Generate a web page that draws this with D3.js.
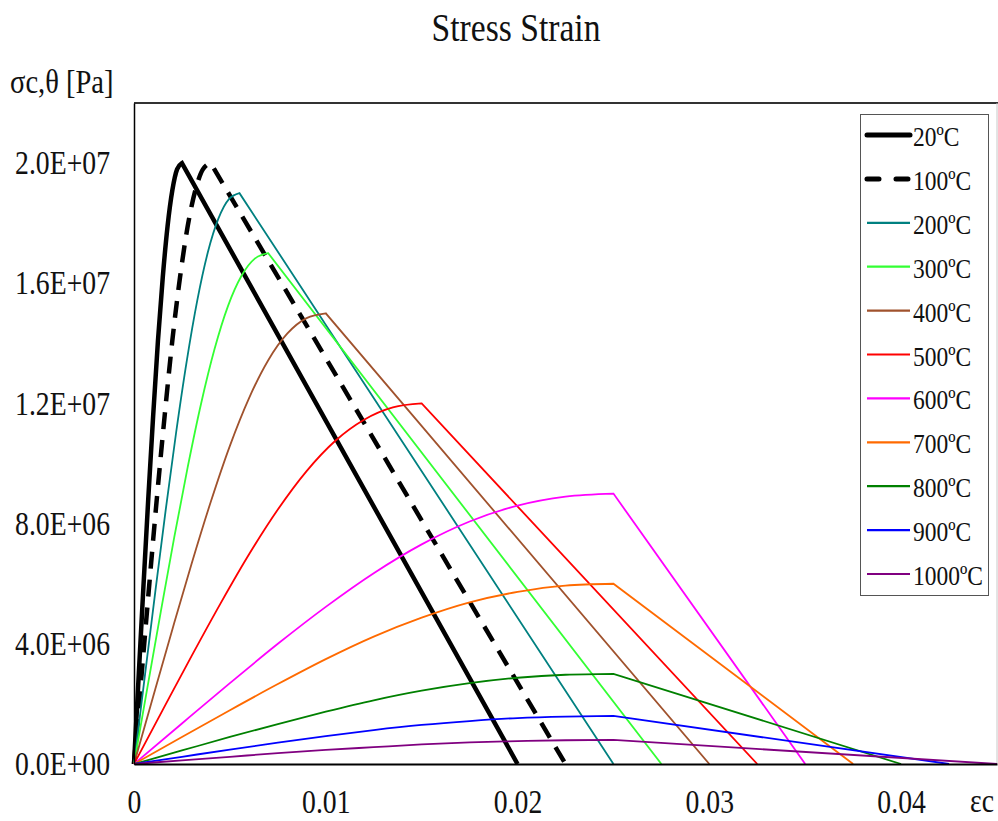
<!DOCTYPE html>
<html>
<head>
<meta charset="utf-8">
<script src="https://cdn.jsdelivr.net/npm/d3@7"></script>
<style>
  body { margin: 0; background: #fff; }
  text { font-family: "Liberation Serif", "Times New Roman", serif; fill: #111; }
</style>
</head>
<body>
<div id="chart"></div>
<script>
// series labels
var labels = ["20ºC", "100ºC", "200ºC", "300ºC", "400ºC", "500ºC", "600ºC", "700ºC", "800ºC", "900ºC", "1000ºC"];

// strain values (last value = end of descending branch)
var strain20   = [0, 0.00025, 0.0005, 0.00075, 0.001, 0.00125, 0.0015, 0.00175, 0.002, 0.00225, 0.0025, 0.02];
var strain100  = [0, 0.0004, 0.0008, 0.0012, 0.0016, 0.002, 0.0024, 0.0028, 0.0032, 0.0036, 0.004, 0.0225];
var strain200  = [0, 0.00055, 0.0011, 0.00165, 0.0022, 0.00275, 0.0033, 0.00385, 0.0044, 0.00495, 0.0055, 0.025];
var strain300  = [0, 0.0007, 0.0014, 0.0021, 0.0028, 0.0035, 0.0042, 0.0049, 0.0056, 0.0063, 0.007, 0.0275];
var strain400  = [0, 0.001, 0.002, 0.003, 0.004, 0.005, 0.006, 0.007, 0.008, 0.009, 0.01, 0.03];
var strain500  = [0, 0.0015, 0.003, 0.0045, 0.006, 0.0075, 0.009, 0.0105, 0.012, 0.0135, 0.015, 0.0325];
var strain600  = [0, 0.0025, 0.005, 0.0075, 0.01, 0.0125, 0.015, 0.0175, 0.02, 0.0225, 0.025, 0.035];
var strain700  = [0, 0.0025, 0.005, 0.0075, 0.01, 0.0125, 0.015, 0.0175, 0.02, 0.0225, 0.025, 0.0375];
var strain800  = [0, 0.0025, 0.005, 0.0075, 0.01, 0.0125, 0.015, 0.0175, 0.02, 0.0225, 0.025, 0.04];
var strain900  = [0, 0.0025, 0.005, 0.0075, 0.01, 0.0125, 0.015, 0.0175, 0.02, 0.0225, 0.025, 0.0425];
var strain1000 = [0, 0.0025, 0.005, 0.0075, 0.01, 0.0125, 0.015, 0.0175, 0.02, 0.0225, 0.025, 0.045];

// stress values in MPa
var stress20   = [0, 3.0, 6.0, 8.9, 11.6, 14.1, 16.2, 17.9, 19.1, 19.8, 20.0, 0];
var stress100  = [0, 3.0, 6.0, 8.9, 11.6, 14.1, 16.2, 17.9, 19.1, 19.8, 20.0, 0];
var stress200  = [0, 2.85, 5.68, 8.44, 11.05, 13.41, 15.43, 17.03, 18.15, 18.8, 19.0, 0];
var stress300  = [0, 2.55, 5.08, 7.55, 9.88, 12.0, 13.81, 15.24, 16.24, 16.82, 17.0, 0];
var stress400  = [0, 2.25, 4.48, 6.66, 8.72, 10.59, 12.18, 13.44, 14.33, 14.84, 15.0, 0];
var stress500  = [0, 1.8, 3.59, 5.33, 6.98, 8.47, 9.75, 10.76, 11.46, 11.87, 12.0, 0];
var stress600  = [0, 1.35, 2.69, 4.0, 5.23, 6.35, 7.31, 8.07, 8.6, 8.9, 9.0, 0];
var stress700  = [0, 0.9, 1.79, 2.66, 3.49, 4.24, 4.87, 5.38, 5.73, 5.94, 6.0, 0];
var stress800  = [0, 0.45, 0.9, 1.33, 1.74, 2.12, 2.44, 2.69, 2.87, 2.97, 3.0, 0];
var stress900  = [0, 0.24, 0.48, 0.71, 0.93, 1.13, 1.3, 1.43, 1.53, 1.58, 1.6, 0];
var stress1000 = [0, 0.12, 0.24, 0.36, 0.47, 0.56, 0.65, 0.72, 0.76, 0.79, 0.8, 0];

var xTicks = [0, 0.01, 0.02, 0.03, 0.04];
var yTicks = [0, 4e6, 8e6, 1.2e7, 1.6e7, 2e7];

// styles
var colors = ["#000000", "#000000", "#008080", "#33ff33", "#a0522d", "#ff0000", "#ff00ff", "#ff6a00", "#008000", "#0000ff", "#800080"];
var widths = [4.5, 4.5, 1.8, 1.8, 1.8, 1.8, 1.8, 1.8, 1.8, 1.8, 1.8];
var dashes = [null, "17,11", null, null, null, null, null, null, null, null, null];

var strains = [strain20, strain100, strain200, strain300, strain400, strain500, strain600, strain700, strain800, strain900, strain1000];
var stresses = [stress20, stress100, stress200, stress300, stress400, stress500, stress600, stress700, stress800, stress900, stress1000];

var series = labels.map(function(l, i){
    return {
        label: l,
        pts: strains[i].map(function(e, j){ return [e, stresses[i][j] * 1e6]; })
    };
});

var W = 998, H = 821;
var SX = 0.84;  // text in the picture is horizontally condensed

var svg = d3.select("#chart").append("svg").attr("width", W).attr("height", H);

var x = d3.scaleLinear().domain([0, 0.045]).range([134, 997]);
var y = d3.scaleLinear().domain([0, 2.2e7]).range([764, 103]);

function label(txt, px, py, size, anchor){
    return svg.append("text")
        .attr("transform", "translate(" + px + "," + py + ") scale(" + SX + ",1)")
        .attr("text-anchor", anchor || "start")
        .style("font-size", size + "px")
        .text(txt);
}

function sci(v){
    var s = d3.format(".1e")(v).split("e");
    var ex = +s[1];
    return s[0] + "E" + (ex < 0 ? "-" : "+") + d3.format("02d")(Math.abs(ex));
}

// frame
svg.append("line").attr("x1", 134).attr("x2", W).attr("y1", 103).attr("y2", 103)
    .attr("stroke", "#333").attr("stroke-width", 2);
svg.append("line").attr("x1", 997).attr("x2", 997).attr("y1", 103).attr("y2", 764)
    .attr("stroke", "#c8c8c8").attr("stroke-width", 1);

// curves
var smooth = d3.line().x(function(d){ return x(d[0]); }).y(function(d){ return y(d[1]); }).curve(d3.curveMonotoneX);

series.forEach(function(s, i){
    var asc = s.pts.slice(0, s.pts.length - 1);
    var end = s.pts[s.pts.length - 1];
    // smooth rising branch, straight falling branch
    var d = smooth(asc) + "L" + x(end[0]) + "," + y(end[1]);
    svg.append("path")
        .attr("d", d)
        .attr("fill", "none")
        .attr("stroke", colors[i])
        .attr("stroke-width", widths[i])
        .attr("stroke-linejoin", "miter")
        .attr("stroke-dasharray", dashes[i]);
});

// axes
var yAxis = svg.append("g").attr("transform", "translate(134,0)")
    .call(d3.axisLeft(y).tickValues(yTicks).tickSize(0).tickFormat(sci));
yAxis.select(".domain").attr("stroke", "#000").attr("stroke-width", 1.5);
yAxis.selectAll("text")
    .attr("x", -24 / SX)
    .attr("transform", "scale(" + SX + ",1)")
    .attr("fill", "#111")
    .style("font-family", "Liberation Serif, serif")
    .style("font-size", "33px");

var xAxis = svg.append("g").attr("transform", "translate(0,764)")
    .call(d3.axisBottom(x).tickValues(xTicks).tickSize(0).tickPadding(26)
        .tickFormat(function(d){ return d === 0 ? "0" : d3.format(".2f")(d); }));
xAxis.select(".domain").attr("stroke", "#000").attr("stroke-width", 2);
xAxis.selectAll("text")
    .attr("transform", "scale(" + SX + ",1)")
    .attr("fill", "#111")
    .style("font-family", "Liberation Serif, serif")
    .style("font-size", "33px");

// titles
label("Stress Strain", 516, 41, 40, "middle");
label("σc,θ [Pa]", 10, 93, 34, "start");
label("εc", 982, 812, 33, "middle");

// legend
svg.append("rect").attr("x", 860.5).attr("y", 114.5).attr("width", 128).attr("height", 481)
    .attr("fill", "#fff").attr("stroke", "#555").attr("stroke-width", 1);

var lg = d3.scaleLinear().domain([0, 10]).range([135, 574]);
series.forEach(function(s, i){
    var ly = lg(i);
    svg.append("line").attr("x1", 867).attr("x2", 910).attr("y1", ly).attr("y2", ly)
        .attr("stroke", colors[i])
        .attr("stroke-width", i < 2 ? 5 : 2.2)
        .attr("stroke-linecap", i < 2 ? "round" : "butt")
        .attr("stroke-dasharray", i === 1 ? "12,17" : null);
    label(s.label, 913, ly + 11, 28, "start");
});
</script>
</body>
</html>
